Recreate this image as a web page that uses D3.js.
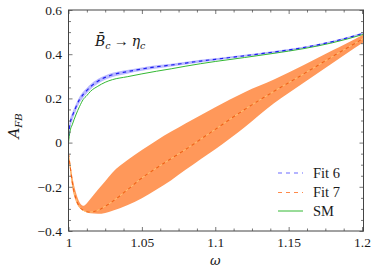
<!DOCTYPE html>
<html><head><meta charset="utf-8">
<script src="https://cdn.jsdelivr.net/npm/d3@7"></script>
<style>
html,body{margin:0;padding:0;background:#fff;}
svg{display:block;}
</style></head>
<body>
<svg id="chart" width="372" height="272"></svg>
<script>
const omega = [1, 1.001, 1.0025, 1.005, 1.0075, 1.01, 1.0125, 1.015, 1.02, 1.025, 1.03, 1.04, 1.05, 1.06, 1.07, 1.08, 1.09, 1.1, 1.12, 1.14, 1.16, 1.18, 1.2, 1.201];
const sm     = [0, 0.05, 0.08, 0.125, 0.163, 0.195, 0.213, 0.232, 0.255, 0.273, 0.285, 0.298, 0.311, 0.323, 0.334, 0.346, 0.357, 0.367, 0.385, 0.404, 0.425, 0.452, 0.488, 0.49];
const fit6   = [0.03, 0.085, 0.118, 0.16, 0.195, 0.218, 0.236, 0.253, 0.278, 0.295, 0.307, 0.321, 0.333, 0.343, 0.351, 0.36, 0.369, 0.377, 0.393, 0.41, 0.43, 0.457, 0.493, 0.495];
const fit6Hi = [0.05, 0.103, 0.134, 0.174, 0.208, 0.23, 0.247, 0.264, 0.288, 0.304, 0.316, 0.329, 0.34, 0.35, 0.357, 0.366, 0.375, 0.382, 0.398, 0.415, 0.434, 0.461, 0.497, 0.499];
const fit6Lo = [0.0, 0.06, 0.097, 0.142, 0.179, 0.203, 0.222, 0.24, 0.266, 0.284, 0.297, 0.312, 0.325, 0.335, 0.344, 0.353, 0.362, 0.371, 0.388, 0.405, 0.426, 0.453, 0.489, 0.491];
const fit7   = [-0.05, -0.1, -0.175, -0.253, -0.29, -0.306, -0.313, -0.314, -0.306, -0.288, -0.266, -0.214, -0.16, -0.115, -0.072, -0.03, 0.015, 0.06, 0.15, 0.232, 0.31, 0.39, 0.468, 0.472];
const fit7Hi = [-0.05, -0.09, -0.15, -0.225, -0.27, -0.286, -0.274, -0.254, -0.213, -0.175, -0.135, -0.08, -0.033, 0.01, 0.05, 0.088, 0.124, 0.16, 0.228, 0.285, 0.35, 0.418, 0.486, 0.49];
const fit7Lo = [-0.06, -0.12, -0.2, -0.265, -0.295, -0.308, -0.315, -0.32, -0.322, -0.318, -0.308, -0.283, -0.252, -0.212, -0.17, -0.122, -0.075, -0.03, 0.07, 0.178, 0.27, 0.36, 0.45, 0.454];

const xTicks = [1, 1.05, 1.1, 1.15, 1.2];
const xTickLabels = ["1", "1.05", "1.1", "1.15", "1.2"];
const yTicks = [-0.4, -0.2, 0, 0.2, 0.4, 0.6];
const yTickLabels = ["\u22120.4", "\u22120.2", "0", "0.2", "0.4", "0.6"];
const xMinor = [1.0125, 1.025, 1.0375, 1.0625, 1.075, 1.0875, 1.1125, 1.125, 1.1375, 1.1625, 1.175, 1.1875];
const yMinor = [-0.35, -0.3, -0.25, -0.15, -0.1, -0.05, 0.05, 0.1, 0.15, 0.25, 0.3, 0.35, 0.45, 0.5, 0.55];
const legendNames = ["Fit 6", "Fit 7", "SM"];

const SERIF = "\"Liberation Serif\"";
const MATH = "\"DejaVu Serif\"";
const svg = d3.select("#chart");
const L = 68.5, R = 363.5, T = 10, B = 231;
const x = d3.scaleLinear().domain([1, 1.201]).range([L, R]);
const y = d3.scaleLinear().domain([-0.4, 0.6]).range([B, T]);

const blueBand = "#adadff", blueLine = "#2020f0";
const orangeBand = "#ff985a", orangeLine = "#f06016";
const green = "#33b833";

svg.append("clipPath").attr("id","clip").append("rect")
  .attr("x", L).attr("y", T).attr("width", R-L).attr("height", B-T);
const g = svg.append("g").attr("clip-path","url(#clip)");

const idx = d3.range(omega.length);
const area = (lo, hi) => d3.area().curve(d3.curveMonotoneX)
  .x(i => x(omega[i])).y0(i => y(lo[i])).y1(i => y(hi[i]));
const line = (arr) => d3.line().curve(d3.curveMonotoneX)
  .x(i => x(omega[i])).y(i => y(arr[i]));

g.append("path").attr("d", area(fit7Lo, fit7Hi)(idx)).attr("fill", orangeBand);
g.append("path").attr("d", line(fit7)(idx)).attr("fill","none")
  .attr("stroke","#ffc070").attr("stroke-width",1);
g.append("path").attr("d", line(fit7)(idx)).attr("fill","none")
  .attr("stroke",orangeLine).attr("stroke-width",1.1).attr("stroke-dasharray","3.5,3.5");
g.append("path").attr("d", area(fit6Lo, fit6Hi)(idx)).attr("fill", blueBand).attr("opacity",0.85);
g.append("path").attr("d", line(sm)(idx)).attr("fill","none")
  .attr("stroke",green).attr("stroke-width",1);
g.append("path").attr("d", line(fit6)(idx)).attr("fill","none")
  .attr("stroke",blueLine).attr("stroke-width",1.2).attr("stroke-dasharray","3.5,3.5");

const axisColor = "#555";
function styleAxis(sel){
  sel.attr("font-family", null).attr("font-size", null);
  sel.select(".domain").remove();
  sel.selectAll(".tick line").attr("stroke", axisColor).attr("stroke-width",0.8);
  sel.selectAll("text").style("font-family", SERIF).style("font-size", "13.5px").attr("fill","#1a1a1a");
}
const ax = svg.append("g").attr("transform",`translate(0,${B})`)
  .call(d3.axisBottom(x).tickValues(xTicks).tickSize(-4).tickPadding(6.5).tickFormat((d,i)=>xTickLabels[i]));
styleAxis(ax);
const axm = svg.append("g").attr("transform",`translate(0,${B})`)
  .call(d3.axisBottom(x).tickValues(xMinor).tickSize(-2.5).tickFormat(""));
styleAxis(axm);
const axt = svg.append("g").attr("transform",`translate(0,${T})`)
  .call(d3.axisTop(x).tickValues(xTicks).tickSize(-4).tickFormat(""));
styleAxis(axt);
const axtm = svg.append("g").attr("transform",`translate(0,${T})`)
  .call(d3.axisTop(x).tickValues(xMinor).tickSize(-2.5).tickFormat(""));
styleAxis(axtm);
const ay = svg.append("g").attr("transform",`translate(${L},0)`)
  .call(d3.axisLeft(y).tickValues(yTicks).tickSize(-4).tickPadding(6.5).tickFormat((d,i)=>yTickLabels[i]));
styleAxis(ay);
const aym = svg.append("g").attr("transform",`translate(${L},0)`)
  .call(d3.axisLeft(y).tickValues(yMinor).tickSize(-2.5).tickFormat(""));
styleAxis(aym);
const ar = svg.append("g").attr("transform",`translate(${R},0)`)
  .call(d3.axisRight(y).tickValues(yTicks).tickSize(-4).tickFormat(""));
styleAxis(ar);
const arm = svg.append("g").attr("transform",`translate(${R},0)`)
  .call(d3.axisRight(y).tickValues(yMinor).tickSize(-2.5).tickFormat(""));
styleAxis(arm);

svg.append("rect").attr("x",L).attr("y",T).attr("width",R-L).attr("height",B-T)
  .attr("fill","none").attr("stroke","#444").attr("stroke-width",1);

svg.append("text").attr("x", x(1.1)).attr("y", 265).attr("text-anchor","middle").attr("fill","#1a1a1a")
  .style("font-family", MATH).style("font-style","italic").style("font-size","13px").text("\u03C9");
const yl = svg.append("text").attr("transform","translate(19,126) rotate(-90)").attr("text-anchor","middle")
  .attr("fill","#1a1a1a").style("font-family", MATH).style("font-size","15px");
yl.append("tspan").style("font-style","italic").text("A");
yl.append("tspan").attr("dy",3).style("font-style","italic").style("font-size","10px").text("FB");

const tt = svg.append("text").attr("x", 95).attr("y", 46).attr("fill","#1a1a1a").style("font-family", MATH).style("font-size","14px");
tt.append("tspan").style("font-style","italic").text("B\u0304");
tt.append("tspan").attr("dy",3).style("font-style","italic").style("font-size","9.5px").text("c");
tt.append("tspan").attr("dy",-3).attr("dx",3).style("font-family", SERIF).style("font-size","15px").text("\u2192");
tt.append("tspan").attr("dx",3).style("font-style","italic").text("\u03B7");
tt.append("tspan").attr("dy",3).style("font-style","italic").style("font-size","9.5px").text("c");

const legY = [173, 192.5, 211];
const legStyles = [
  {c:"#6a6aff", dash:"4,4", w:1.2},
  {c:"#ff8a4a", dash:"4,4", w:1.2},
  {c:green, dash:null, w:1}
];
legendNames.forEach((n,i)=>{
  const ln = svg.append("line").attr("x1",278).attr("x2",303).attr("y1",legY[i]).attr("y2",legY[i])
    .attr("stroke",legStyles[i].c).attr("stroke-width",legStyles[i].w);
  if (legStyles[i].dash) ln.attr("stroke-dasharray",legStyles[i].dash);
  svg.append("text").attr("x",313).attr("y",legY[i]+4.5).attr("fill","#1a1a1a")
    .style("font-family", SERIF).style("font-size","14.5px").text(n);
});
</script>
</body></html>
